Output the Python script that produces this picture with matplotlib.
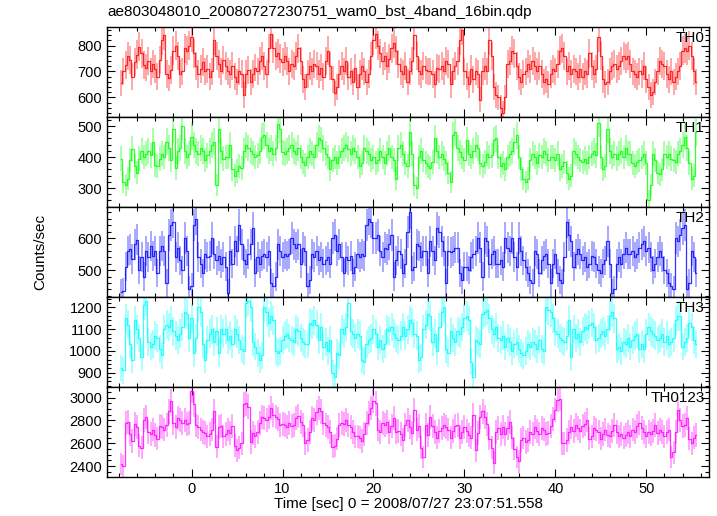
import numpy as np
import matplotlib
matplotlib.use("Agg")
import matplotlib.pyplot as plt
from matplotlib.ticker import MultipleLocator

plt.rcParams['font.family'] = ['Liberation Sans', 'DejaVu Sans']

title = "ae803048010_20080727230751_wam0_bst_4band_16bin.qdp"
xlabel = "Time [sec] 0 = 2008/07/27 23:07:51.558"
ylabel = "Counts/sec"
t_first = -7.75     # centre of first bin [s]
bin_width = 0.25    # bin width [s]

th0 = [
 655, 700, 725, 760, 745, 680, 735, 765,
 795, 770, 725, 715, 740, 700, 730, 710,
 680, 745, 820, 840, 690, 675, 705, 780,
 800, 760, 690, 700, 790, 780, 800, 835,
 770, 720, 690, 710, 735, 700, 710, 680,
 700, 820, 760, 730, 700, 745, 720, 700,
 690, 720, 680, 660, 700, 690, 610, 690,
 705, 660, 690, 715, 700, 740, 760, 720,
 690, 790, 845, 790, 760, 770, 750, 735,
 760, 740, 700, 730, 720, 760, 790, 740,
 670, 640, 690, 720, 700, 730, 720, 690,
 715, 680, 740, 780, 720, 670, 615, 640,
 690, 720, 700, 740, 680, 700, 660, 715,
 640, 690, 720, 700, 660, 690, 760, 820,
 845, 800, 770, 740, 760, 720, 750, 790,
 810, 780, 730, 700, 690, 720, 660, 700,
 740, 840, 760, 700, 690, 720, 705, 700,
 700, 690, 650, 715, 710, 720, 700, 740,
 730, 650, 700, 720, 740, 820, 860, 700,
 680, 650, 710, 670, 700, 690, 590, 700,
 720, 700, 820, 760, 640, 610, 600, 560,
 540, 600, 730, 740, 780, 770, 720, 680,
 660, 690, 700, 730, 710, 740, 720, 700,
 720, 690, 660, 670, 650, 690, 710, 700,
 730, 780, 790, 760, 700, 720, 690, 710,
 700, 680, 710, 680, 700, 690, 770, 720,
 690, 710, 835, 760, 670, 650, 660, 700,
 720, 730, 710, 720, 740, 760, 750, 760,
 730, 700, 690, 680, 700, 690, 720, 670,
 640, 610, 620, 660, 700, 740, 730, 720,
 690, 670, 700, 660, 680, 700, 720, 780,
 790, 780, 800, 760, 700, 660]

th1 = [
 395, 320, 310, 330, 390, 425, 370, 350,
 395, 420, 400, 410, 420, 405, 450, 375,
 370, 395, 410, 400, 450, 430, 390, 490,
 365, 420, 430, 500, 420, 400, 410, 465,
 440, 420, 410, 430, 420, 390, 405, 420,
 440, 450, 310, 490, 420, 395, 400, 400,
 440, 360, 340, 355, 370, 365, 420, 440,
 430, 420, 410, 400, 405, 420, 465, 470,
 440, 420, 430, 410, 430, 505, 490, 415,
 410, 420, 430, 440, 420, 410, 430, 400,
 385, 375, 400, 420, 410, 400, 440, 460,
 455, 430, 410, 400, 360, 390, 400, 380,
 400, 420, 430, 440, 425, 410, 430, 420,
 400, 370, 380, 430, 420, 410, 390, 400,
 380, 390, 420, 400, 380, 410, 430, 400,
 390, 330, 430, 440, 410, 380, 370, 480,
 410, 310, 300, 400, 420, 390, 380, 370,
 365, 385, 460, 420, 400, 410, 395, 380,
 350, 320, 470, 480, 430, 415, 400, 390,
 455, 410, 400, 420, 440, 430, 380, 370,
 385, 410, 400, 405, 455, 460, 400, 370,
 380, 360, 400, 410, 420, 450, 470, 400,
 360, 330, 320, 330, 390, 410, 400, 380,
 405, 400, 420, 410, 390, 400, 400, 390,
 410, 360, 370, 385, 350, 330, 340, 420,
 410, 400, 390, 385, 395, 380, 400, 410,
 420, 405, 510, 400, 360, 370, 490, 420,
 400, 410, 395, 410, 420, 400, 430, 410,
 410, 380, 370, 385, 390, 400, 410, 380,
 260, 310, 410, 390, 350, 345, 360, 410,
 400, 410, 395, 390, 385, 410, 420, 440,
 465, 430, 380, 330, 340, 480]

th2 = [
 432, 435, 510, 560, 565, 535, 580, 595,
 500, 540, 480, 560, 540, 575, 545, 560,
 490, 560, 575, 560, 460, 610, 640, 650,
 540, 570, 530, 500, 600, 560, 440, 450,
 640, 660, 540, 520, 490, 550, 540, 545,
 600, 550, 530, 545, 520, 540, 510, 430,
 560, 520, 590, 560, 640, 580, 530, 520,
 550, 580, 630, 490, 540, 520, 545, 550,
 540, 560, 460, 450, 480, 580, 560, 540,
 550, 545, 550, 600, 580, 570, 580, 520,
 570, 560, 450, 470, 550, 540, 560, 530,
 540, 520, 530, 540, 520, 600, 610, 560,
 580, 540, 490, 540, 530, 545, 490, 510,
 550, 540, 550, 545, 640, 660, 650, 600,
 600, 610, 560, 540, 570, 565, 580, 610,
 480, 530, 560, 550, 490, 520, 620, 680,
 500, 510, 580, 575, 540, 560, 560, 490,
 590, 560, 530, 630, 620, 590, 560, 460,
 560, 555, 560, 570, 570, 490, 470, 510,
 510, 500, 540, 550, 560, 600, 570, 480,
 600, 590, 520, 550, 560, 520, 520, 530,
 510, 600, 570, 560, 600, 540, 510, 600,
 560, 530, 510, 490, 470, 460, 560, 550,
 490, 530, 545, 550, 520, 460, 520, 550,
 490, 470, 460, 540, 650, 610, 590, 510,
 550, 565, 550, 530, 540, 510, 520, 545,
 540, 520, 500, 490, 520, 530, 590, 520,
 430, 440, 520, 540, 520, 550, 570, 550,
 550, 560, 540, 550, 570, 580, 590, 560,
 570, 540, 500, 520, 540, 560, 540, 500,
 490, 460, 450, 440, 600, 590, 610, 630,
 640, 440, 460, 560, 540, 490]

th3 = [
 920, 910, 1150, 1120, 1030, 960, 1140, 1100,
 1060, 970, 1210, 1230, 1040, 1020, 1030, 1070,
 1060, 1010, 980, 1100, 1120, 1110, 1140, 1090,
 1070, 1050, 1080, 1110, 1180, 1170, 1060, 1150,
 990, 1060, 1200, 1180, 1030, 960, 1050, 1080,
 1100, 1040, 1090, 990, 1100, 1080, 1100, 1050,
 1070, 1030, 1100, 1080, 1050, 1010, 1000, 1220,
 1230, 1200, 1040, 1020, 990, 960, 980, 1200,
 1180, 1130, 1160, 1140, 1000, 990, 1000, 1050,
 1070, 1080, 1060, 1050, 1040, 1100, 1090, 1060,
 1040, 1030, 1030, 1130, 1120, 1140, 1120, 1050,
 1110, 1020, 1040, 1000, 1050, 900, 880, 990,
 980, 1100, 1080, 1110, 1220, 1090, 1080, 1060,
 1080, 1070, 960, 950, 1030, 1050, 1060, 1100,
 1080, 1020, 1050, 1010, 1030, 1100, 1090, 1110,
 1080, 1060, 1050, 1070, 1110, 1070, 1100, 1140,
 1130, 1080, 1070, 960, 970, 1100, 1120, 1170,
 1160, 1040, 1080, 1000, 1110, 1180, 1200, 1010,
 990, 1090, 1060, 1040, 1090, 1080, 1110, 1150,
 1160, 1140, 950, 880, 1050, 1040, 1030, 1170,
 1180, 1190, 1150, 1100, 1080, 1110, 1060, 1050,
 1070, 1020, 1060, 1040, 1000, 1030, 1040, 1010,
 990, 980, 1000, 1030, 1020, 1040, 1030, 1010,
 1050, 1010, 1000, 1200, 1190, 1180, 1150, 1090,
 1080, 1060, 1050, 1040, 1070, 1140, 970, 1100,
 1060, 1080, 1040, 1090, 1110, 1100, 1120, 1130,
 1110, 1050, 1060, 1080, 1090, 1070, 1100, 1160,
 1180, 1150, 1010, 1020, 1000, 1040, 1030, 1060,
 1020, 1050, 1070, 1080, 1010, 1030, 1010, 1080,
 1110, 1090, 1080, 1070, 1050, 1060, 1080, 1040,
 1070, 1030, 1040, 1060, 1140, 1160, 1160, 1020,
 1040, 1060, 1130, 1110, 1050, 1030]

th0123 = [
 2420, 2400, 2780, 2790, 2680, 2620, 2770, 2740,
 2580, 2560, 2800, 2830, 2700, 2680, 2720, 2670,
 2640, 2750, 2740, 2720, 2760, 2880, 2970, 2780,
 2740, 2820, 2800, 2780, 2800, 2770, 2780, 3060,
 2940, 2760, 2740, 2720, 2700, 2690, 2660, 2680,
 2720, 2880, 2570, 2740, 2750, 2660, 2680, 2720,
 2690, 2750, 2580, 2540, 2560, 2600, 2940, 2950,
 2920, 2610, 2690, 2660, 2700, 2780, 2830, 2820,
 2800, 2830, 2910, 2850, 2830, 2810, 2760, 2770,
 2760, 2740, 2780, 2750, 2760, 2820, 2840, 2790,
 2760, 2600, 2630, 2700, 2820, 2800, 2870, 2910,
 2880, 2780, 2760, 2740, 2700, 2570, 2580, 2640,
 2760, 2780, 2770, 2800, 2760, 2740, 2700, 2660,
 2660, 2650, 2620, 2680, 2780, 2860, 2910, 2970,
 2950, 2720, 2700, 2780, 2760, 2790, 2700, 2750,
 2820, 2700, 2710, 2680, 2630, 2760, 2800, 2740,
 2690, 2890, 2720, 2750, 2560, 2480, 2760, 2670,
 2830, 2750, 2700, 2650, 2710, 2730, 2760, 2740,
 2720, 2650, 2710, 2750, 2760, 2650, 2700, 2740,
 2710, 2670, 2650, 2850, 2540, 2690, 2830, 2880,
 2830, 2770, 2640, 2560, 2430, 2700, 2730, 2680,
 2740, 2680, 2730, 2790, 2650, 2550, 2480, 2440,
 2630, 2650, 2610, 2630, 2700, 2680, 2740, 2710,
 2680, 2730, 2720, 2680, 2690, 2750, 2810, 2890,
 2980, 2990, 2600, 2600, 2630, 2700, 2740, 2710,
 2760, 2730, 2710, 2750, 2770, 2800, 2640, 2660,
 2730, 2720, 2700, 2640, 2680, 2720, 2670, 2660,
 2710, 2760, 2700, 2660, 2680, 2650, 2670, 2700,
 2660, 2720, 2700, 2750, 2780, 2730, 2700, 2660,
 2700, 2680, 2710, 2760, 2690, 2720, 2700, 2660,
 2700, 2720, 2480, 2520, 2700, 2890, 2800, 2750,
 2760, 2820, 2640, 2600, 2650, 2670]

names = ["TH0", "TH1", "TH2", "TH3", "TH0123"]
series = [th0, th1, th2, th3, th0123]
colors = ["#ff0000", "#00ff00", "#0000ff", "#00ffff", "#ff00ff"]
ylims = [(524, 872), (239, 529), (416, 697), (834, 1248), (2304, 3093)]
ymajor = [100, 100, 100, 100, 200]
yminor = [20, 20, 20, 20, 50]
xlim = (-9.3, 56.9)

W, H = 717, 516
fig = plt.figure(figsize=(W / 100, H / 100), dpi=100)
left, right = 107 / W, 709 / W
top_px, bot_px = 27, 477
ph = (bot_px - top_px) / 5

axes = []
for k, (name, vals, col, yl) in enumerate(zip(names, series, colors, ylims)):
    ax = fig.add_axes([left, 1 - (top_px + (k + 1) * ph) / H, right - left, ph / H])
    v = np.asarray(vals, dtype=float)
    t = t_first + bin_width * np.arange(len(v))
    err = np.sqrt(v / bin_width)
    ax.errorbar(t, v, yerr=err, fmt='none', ecolor=col, elinewidth=1.2,
                alpha=0.4, capsize=0, zorder=2)
    ax.step(t, v, where='mid', color=col, lw=0.9, alpha=0.8, zorder=3)
    ax.set_xlim(*xlim)
    ax.set_ylim(*yl)
    ax.xaxis.set_major_locator(MultipleLocator(10))
    ax.xaxis.set_minor_locator(MultipleLocator(2))
    ax.yaxis.set_major_locator(MultipleLocator(ymajor[k]))
    ax.yaxis.set_minor_locator(MultipleLocator(yminor[k]))
    ax.tick_params(which='both', direction='in', top=True, right=True,
                   labelsize=10.5, width=0.8)
    ax.tick_params(which='major', length=5.5)
    ax.tick_params(which='minor', length=3)
    for s in ax.spines.values():
        s.set_linewidth(1.0)
    if k < 4:
        ax.tick_params(labelbottom=False)
    ax.text(0.993, 0.96, name, transform=ax.transAxes, ha='right', va='top',
            fontsize=11)
    axes.append(ax)

axes[-1].set_xlabel(xlabel, fontsize=11, labelpad=0.5)
fig.text(40 / W, 1 - 252 / H, ylabel, rotation=90, ha='center', va='center',
         fontsize=11)
fig.text(left, 1 - 12 / H, title, ha='left', va='center', fontsize=11)

fig.savefig("out.png", dpi=100)
